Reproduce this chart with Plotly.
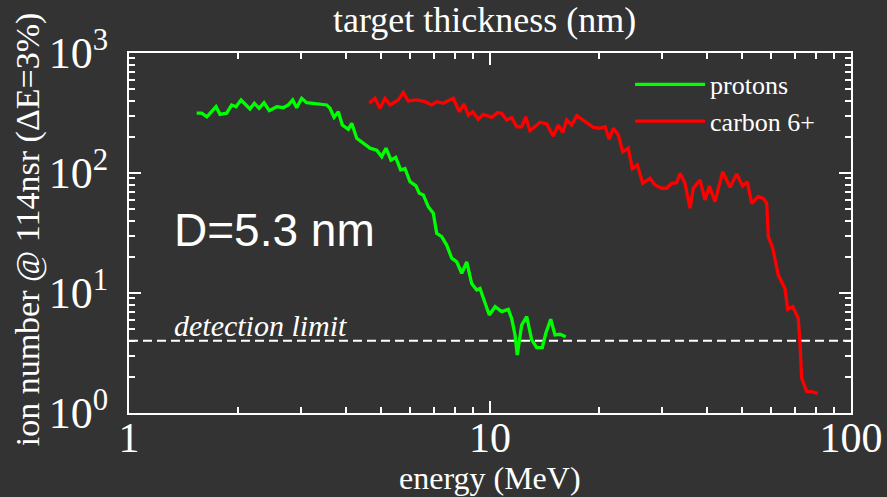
import plotly.graph_objects as go

# Proton spectrum: energy (MeV) and ion number
proton_energy = [1.540, 1.590, 1.643, 1.695, 1.742, 1.787, 1.865, 1.925, 1.979, 2.043,
                 2.109, 2.163, 2.224, 2.292, 2.366, 2.447, 2.566, 2.676, 2.763, 2.841,
                 2.914, 3.008, 3.106, 3.311, 3.529, 3.604, 3.698, 3.801, 3.898, 4.051,
                 4.140, 4.274, 4.413, 4.652, 4.855, 5.012, 5.152, 5.318, 5.480, 5.657,
                 5.814, 6.003, 6.237, 6.370, 6.534, 6.746, 6.965, 7.118, 7.348, 7.586,
                 7.834, 8.088, 8.351, 8.620, 8.898, 9.188, 9.382, 9.685, 9.954, 10.33,
                 10.77, 11.24, 11.48, 11.73, 11.90, 12.24, 12.64, 13.05, 13.47, 13.96,
                 14.27, 14.73, 15.14, 15.63, 16.21]
proton_counts = [315, 315, 294, 324, 357, 308, 315, 369, 357, 406,
                 369, 342, 381, 346, 385, 331, 357, 350, 369, 406,
                 350, 419, 385, 376, 369, 346, 291, 324, 251, 231,
                 260, 195, 182, 161, 155, 137, 161, 128, 135, 106,
                 109, 84.6, 78.0, 67.7, 65.6, 52.4, 46.2, 31.4, 29.5, 25.1,
                 19.5, 18.2, 14.6, 18.2, 12.0, 10.6, 10.9, 8.20, 6.56, 7.69,
                 6.99, 7.31, 6.15, 4.47, 3.04, 5.41, 6.35, 4.06, 3.50, 3.50,
                 4.61, 6.04, 4.47, 4.53, 4.32]

# Carbon 6+ spectrum: energy (MeV) and ion number
carbon_energy = [4.631, 4.802, 4.958, 5.119, 5.284, 5.572, 5.753, 5.938, 6.266, 6.607,
                 6.895, 7.118, 7.424, 7.912, 8.222, 8.472, 8.709, 8.957, 9.282, 9.581,
                 10.11, 10.48, 10.77, 11.12, 11.48, 11.86, 12.24, 12.56, 12.90, 13.76,
                 14.36, 14.97, 15.46, 15.90, 16.31, 16.84, 17.39, 18.33, 19.33, 20.17,
                 20.83, 21.40, 21.96, 22.67, 23.32, 24.16, 24.79, 25.59, 26.49, 27.75,
                 28.65, 29.90, 30.87, 31.87, 32.90, 33.60, 34.69, 35.81, 36.58, 38.17,
                 39.41, 40.51, 42.01, 44.12, 46.22, 48.24, 50.12, 51.61, 53.08, 55.37,
                 57.17, 58.42, 59.02, 60.69, 62.90, 65.65, 66.79, 68.95, 71.45, 72.23,
                 73.01, 75.39, 77.83, 80.88]
carbon_counts = [381, 419, 346, 419, 369, 406, 467, 398, 406, 393,
                 369, 393, 381, 419, 324, 376, 304, 324, 280, 308,
                 291, 318, 315, 277, 289, 243, 243, 294, 225, 265,
                 256, 203, 251, 218, 277, 251, 300, 268, 240, 236,
                 243, 191, 236, 207, 150, 161, 109, 117, 82.0, 90.3,
                 79.4, 74.6, 74.6, 82.0, 83.0, 99.4, 82.0, 50.8, 74.6, 87.5,
                 59.6, 78.0, 57.7, 102.5, 76.0, 98.1, 78.0, 84.6, 55.9, 63.5,
                 61.5, 55.9, 29.5, 23.6, 14.1, 10.9, 7.31, 7.69, 6.15, 3.81,
                 1.95, 1.505, 1.505, 1.46]

# Detection threshold and axis extent
detection_limit = 4.0
energy_span = [1, 100]
x_major = [1, 10, 100]
x_major_text = ["1", "10", "100"]
y_major = [1, 10, 100, 1000]
y_major_text = ["10<sup>0</sup>", "10<sup>1</sup>", "10<sup>2</sup>", "10<sup>3</sup>"]

BG = "#333333"
SERIF = "Liberation Serif"
SANS = "Liberation Sans"

fig = go.Figure()

fig.add_trace(go.Scatter(
    x=energy_span, y=[detection_limit, detection_limit], mode="lines",
    line=dict(color="white", width=2, dash="9px,5px"),
    showlegend=False, hoverinfo="skip"))

fig.add_trace(go.Scatter(
    x=proton_energy, y=proton_counts, mode="lines", name="protons",
    line=dict(color="#00ff00", width=3.3)))

fig.add_trace(go.Scatter(
    x=carbon_energy, y=carbon_counts, mode="lines", name="carbon 6+",
    line=dict(color="#ff0000", width=3.3)))

minor_x = [m * d for d in (1, 10) for m in range(2, 10)]
minor_y = [m * d for d in (1, 10, 100) for m in range(2, 10)]

axis_common = dict(
    showline=True, linecolor="white", linewidth=2, mirror="allticks",
    ticks="inside", ticklen=12, tickwidth=2, tickcolor="white",
    showgrid=False, zeroline=False, automargin=False,
)

fig.update_xaxes(
    type="log", range=[0, 2], tickmode="array", tickvals=x_major, ticktext=x_major_text,
    minor=dict(tickmode="array", tickvals=minor_x, ticks="inside", ticklen=6,
               tickwidth=2, tickcolor="white", showgrid=False),
    tickfont=dict(family=SERIF, size=42, color="white"),
    ticklabelstandoff=-13,
    **axis_common)

fig.update_yaxes(
    type="log", range=[0, 3], tickmode="array", tickvals=y_major, ticktext=y_major_text,
    minor=dict(tickmode="array", tickvals=minor_y, ticks="inside", ticklen=6,
               tickwidth=2, tickcolor="white", showgrid=False),
    tickfont=dict(family=SERIF, size=44, color="white"),
    ticklabelstandoff=10,
    **axis_common)

fig.add_annotation(
    text="target thickness (nm)", xref="paper", yref="paper", x=0.493, y=1.092,
    xanchor="center", yanchor="middle", showarrow=False,
    font=dict(family=SERIF, size=36, color="white"))

fig.add_annotation(
    text="energy (MeV)", xref="paper", yref="paper", x=0.5, y=-0.18,
    xanchor="center", yanchor="middle", showarrow=False, borderpad=0,
    font=dict(family=SERIF, size=32, color="white"))

fig.add_annotation(
    text="ion number @ 114nsr (ΔE=3%)", xref="paper", yref="paper", x=-0.14, y=0.51,
    xanchor="center", yanchor="middle", textangle=-90, showarrow=False,
    font=dict(family=SERIF, size=34, color="white"))

fig.add_annotation(
    text="D=5.3 nm", xref="paper", yref="paper", x=0.201, y=0.508,
    xanchor="center", yanchor="middle", showarrow=False,
    font=dict(family=SANS, size=46, color="white"))

fig.add_annotation(
    text="<i>detection limit</i>", xref="x", yref="y", x=0.118, y=0.602,
    xanchor="left", yanchor="bottom", showarrow=False, yshift=-3,
    font=dict(family=SERIF, size=30, color="white"))

fig.update_layout(
    width=887, height=497,
    margin=dict(l=129, r=36, t=53, b=84, pad=0),
    paper_bgcolor=BG, plot_bgcolor=BG,
    legend=dict(x=0.694, y=0.978, xanchor="left", yanchor="top",
                bgcolor="rgba(0,0,0,0)", itemwidth=70, tracegroupgap=0,
                font=dict(family=SERIF, size=26, color="white")),
)

fig.write_html("out.html")
